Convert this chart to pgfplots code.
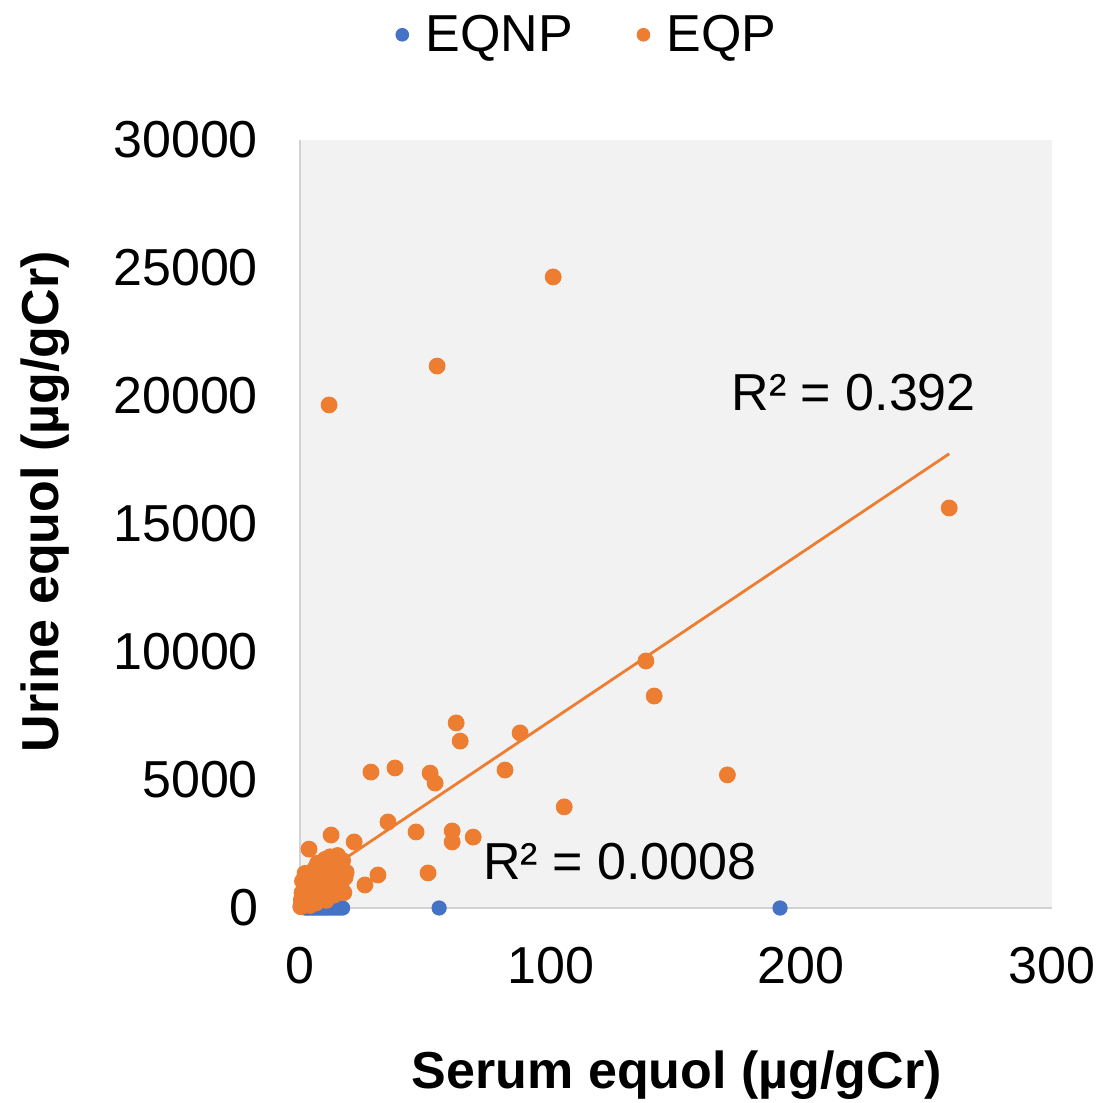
\documentclass[border=0pt]{standalone}
\usepackage{fontspec}
\setmainfont{Liberation Sans}
\usepackage{pgfplots}
\pgfplotsset{compat=1.18}
\definecolor{eqnp}{HTML}{4472C4}
\definecolor{eqp}{HTML}{ED7D31}
\begin{document}
\begin{tikzpicture}
\useasboundingbox (-150pt,-97pt) rectangle (403pt,454pt);
\begin{axis}[
  at={(0,0)}, anchor=south west,
  scale only axis, width=376pt, height=384pt,
  xmin=0, xmax=300, ymin=0, ymax=30000,
  xtick={0,100,200,300}, ytick={0,5000,10000,15000,20000,25000,30000},
  scaled y ticks=false, scaled x ticks=false,
  axis lines*=left,
  axis line style={draw=gray!35, line width=0.8pt},
  major tick length=0pt, tick style={draw=none},
  axis background/.style={fill=gray!10},
  tick label style={font=\fontsize{26}{31}\selectfont},
  label style={font=\fontsize{26}{31}\selectfont\bfseries},
  /pgf/number format/assume math mode=true,
  /pgf/number format/1000 sep={},
  yticklabel style={xshift=-17.5pt},
  xticklabel style={yshift=-16pt},
  xlabel={Serum equol (µg/gCr)},
  ylabel={Urine equol (µg/gCr)},
  xlabel style={at={(axis description cs:0.501,-0.2174)}, anchor=center},
  ylabel style={at={(axis description cs:-0.339,0.529)}, anchor=center},
  clip=false,
  legend style={at={(0.382,1.137)}, anchor=center, draw=none, fill=none,
    legend columns=2, font=\fontsize{26}{31}\selectfont,
    /tikz/every even column/.append style={column sep=29pt}},
  legend image code/.code={\path (-4pt,0pt) (9.5pt,0pt); \draw[#1, mark size=3.2pt] plot coordinates {(0pt,0pt)};},
]
\addplot[only marks, mark=*, mark size=3.6pt, color=eqnp] coordinates {
(2,0) (3,0) (4,0) (5,0) (6,0) (7,0) (8,0) (9,0) (10,0) (11,0) (12,0)
(13,0) (14,0) (15,0) (16,0) (17,0) (55.5,0) (191.5,0)
};
\addlegendentry{EQNP}
\addplot[only marks, mark=*, mark size=4pt, color=eqp] coordinates {
(101,24650) (54.7,21170) (11.6,19650) (259,15625) (138,9650) (141.3,8280)
(62.3,7230) (63.9,6520) (87.8,6840) (28.3,5310) (37.9,5470) (51.9,5270)
(53.9,4880) (81.8,5390) (170.5,5200) (105.4,3950) (35.1,3360) (46.3,2970)
(60.7,3010) (60.7,2580) (69.1,2770) (12.4,2850) (21.6,2580) (3.6,2300)
(51.1,1370) (31.1,1290) (25.9,900)
(0.3,50) (0.5,300) (0.8,600) (1,1050) (1.2,150) (1.5,450) (2,800) (2,1350)
(2.5,250) (3,600) (3.5,1000) (4,100) (4,1300) (4.5,700) (5,400) (5.5,1100)
(6,1550) (6.5,200) (7,800) (7,1750) (8,1200) (8.5,500) (9,1500) (9.5,900)
(10,1900) (10.5,300) (11,1300) (11.5,700) (12,2000) (12.5,1600) (13,1000)
(13.5,500) (14,1800) (14.5,1300) (15,2050) (15.5,800) (16,1600) (16.5,1000)
(17,1850) (18,1200) (18.4,1400) (17.5,600) (10,430)
};
\addlegendentry{EQP}
\addplot[color=eqp, line width=1.4pt, forget plot] coordinates {(0.3,774) (259,17744)};
\node[anchor=west, inner sep=0pt, font=\fontsize{26}{31}\selectfont] at (axis cs:172,20117) {R² = 0.392};
\node[anchor=west, inner sep=0pt, font=\fontsize{26}{31}\selectfont] at (axis cs:73,1800) {R² = 0.0008};
\end{axis}
\end{tikzpicture}
\end{document}
